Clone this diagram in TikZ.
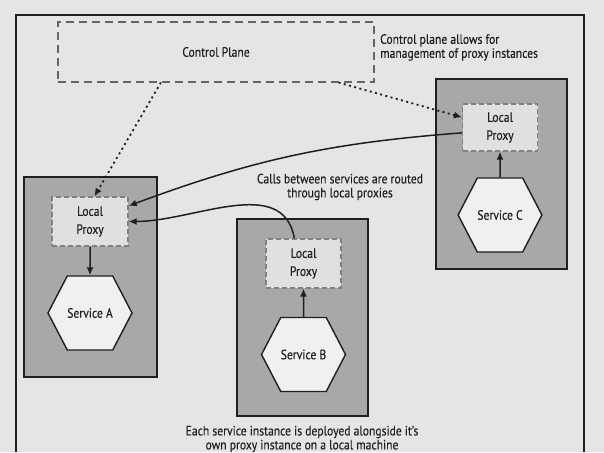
\documentclass[tikz,border=0pt]{standalone}
\usepackage{fontspec}
\setmainfont{PT Sans}[FakeStretch=0.86, FakeBold=0.25]
\colorlet{Paper}{black!10}
\colorlet{MachineFill}{black!34}
\colorlet{ProxyFill}{black!12}
\colorlet{ServiceFill}{black!6}
\colorlet{Ink}{black!88}
\usetikzlibrary{arrows.meta, shapes.symbols}
\tikzset{
    machine/.style={draw=Ink, line width=1.7pt, fill=MachineFill, inner sep=0pt},
    proxy/.style={draw=black!50, dash pattern=on 5pt off 3pt, line width=1.3pt,
        fill=ProxyFill, align=center, inner sep=0pt, text=Ink,
        font=\fontsize{13.5}{18}\selectfont},
    service/.style={shape=signal, signal to=east and west, signal pointer angle=125,
        draw=Ink, line width=1.4pt, fill=ServiceFill, inner sep=0pt,
        minimum width=76pt, minimum height=74pt, text=Ink,
        font=\fontsize{13.5}{16}\selectfont},
    plane/.style={draw=black!60, dash pattern=on 8pt off 5pt, line width=1.1pt,
        inner sep=0pt, text=Ink, font=\fontsize{13.5}{16}\selectfont},
    note/.style={font=\fontsize{13.5}{14}\selectfont, text=Ink, inner sep=0pt},
    flow/.style={draw=Ink, line width=1.5pt, -{Latex[length=8pt, width=7pt]}},
    ctrl/.style={flow, dash pattern=on 2pt off 3.4pt, line width=1.8pt}
}

\begin{document}
\begin{tikzpicture}[x=1pt, y=1pt]

\fill[Paper] (0,0) rectangle (604,452);
\useasboundingbox (0,0) rectangle (604,452);

% Marco de la figura
\draw[Ink, line width=1.3pt] (16,0) -- (16,437) -- (584,437) -- (584,0);

% Plano de control
\node[plane, minimum width=316pt, minimum height=60pt] (CP) at (216,400) {Control Plane};
\node[note, anchor=north west, align=left] (NP) at (380,418)
    {Control plane allows for\\management of proxy instances};

% Maquinas, cada una con su proxy local y su servicio
\node[machine, minimum width=133pt, minimum height=200pt] (MA) at (90.5,175) {};
\node[proxy, minimum width=76pt, minimum height=49pt] (PA) at (90,230.5) {Local\\Proxy};
\node[service] (SA) at (90,139) {Service A};

\node[machine, minimum width=131pt, minimum height=197pt] (MB) at (302.5,134.5) {};
\node[proxy, minimum width=75pt, minimum height=49pt] (PB) at (303.5,188.5) {Local\\Proxy};
\node[service] (SB) at (303.5,97.5) {Service B};

\node[machine, minimum width=131pt, minimum height=190pt] (MC) at (501.5,278) {};
\node[proxy, minimum width=75pt, minimum height=47pt] (PC) at (500,324.5) {Local\\Proxy};
\node[service] (SC) at (500,237) {Service C};

\node[note, align=center] (NC) at (340,265)
    {Calls between services are routed\\through local proxies};
\node[note, align=center] (NE) at (302,13)
    {Each service instance is deployed alongside it's\\own proxy instance on a local machine};

% Conexiones entre servicios y proxies
\draw[flow] (PA) -- (SA);
\draw[flow] (SB) -- (PB);
\draw[flow] (SC) -- (PC);

\draw[flow] (PB.110) to[out=100, in=0] (PA.east);
\draw[flow] (PC.188) to[bend right=8] (PA.22);

% El plano de control gestiona los proxies
\draw[ctrl] (CP.209) -- (PA.80);
\draw[ctrl] (CP.346) -- (PC.165);

\end{tikzpicture}
\end{document}
